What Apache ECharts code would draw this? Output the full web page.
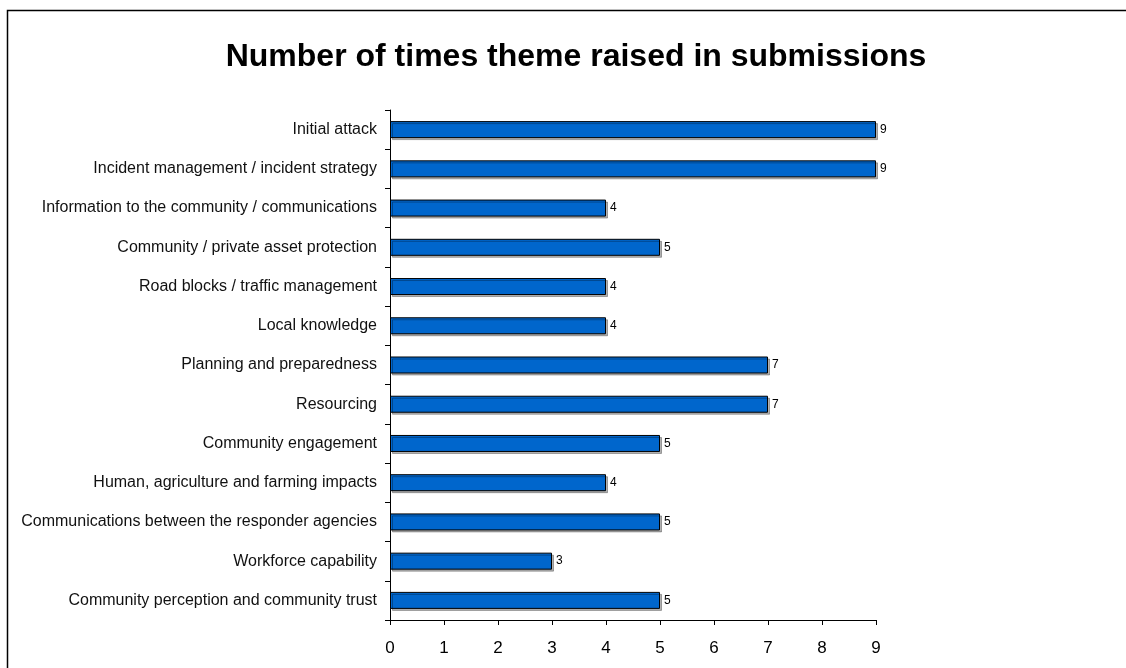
<!DOCTYPE html>
<html>
<head>
<meta charset="utf-8">
<script src="https://cdn.jsdelivr.net/npm/echarts@6/dist/echarts.min.js"></script>
<style>
html,body{margin:0;padding:0;background:#fff;}
#chart{width:1126px;height:668px;}
</style>
</head>
<body>
<div id="chart"></div>
<script>
var categories = [
  "Initial attack",
  "Incident management / incident strategy",
  "Information to the community / communications",
  "Community / private asset protection",
  "Road blocks / traffic management",
  "Local knowledge",
  "Planning and preparedness",
  "Resourcing",
  "Community engagement",
  "Human, agriculture and farming impacts",
  "Communications between the responder agencies",
  "Workforce capability",
  "Community perception and community trust"
];
var counts = [9, 9, 4, 5, 4, 4, 7, 7, 5, 4, 5, 3, 5];
var xTicks = [0, 1, 2, 3, 4, 5, 6, 7, 8, 9];

var chart = echarts.init(document.getElementById('chart'), null, {renderer: 'canvas'});
chart.setOption({
  animation: false,
  backgroundColor: '#ffffff',
  textStyle: {fontFamily: 'Liberation Sans, Arial, sans-serif'},
  graphic: [{
    type: 'rect',
    shape: {x: 7.5, y: 10.5, width: 1200, height: 700},
    style: {fill: 'none', stroke: '#000', lineWidth: 1.5},
    silent: true
  }],
  title: {
    text: 'Number of times theme raised in submissions',
    left: 571, top: 36, textAlign: 'center',
    textStyle: {fontSize: 32, fontWeight: 'bold', color: '#000', fontFamily: 'Liberation Sans, Arial, sans-serif'}
  },
  grid: {left: 390, right: 250, top: 110, bottom: 48, containLabel: false},
  xAxis: {
    type: 'value', min: xTicks[0], max: xTicks[xTicks.length - 1], interval: 1,
    axisLine: {show: true, lineStyle: {color: '#000', width: 1}},
    axisTick: {show: true, length: 5, lineStyle: {color: '#000'}},
    splitLine: {show: false},
    axisLabel: {fontSize: 17, color: '#000', margin: 20}
  },
  yAxis: {
    type: 'category', data: categories, inverse: true,
    axisLine: {show: true, lineStyle: {color: '#000', width: 1}},
    axisTick: {show: true, length: 5, lineStyle: {color: '#000'}},
    axisLabel: {fontSize: 16, color: '#111', margin: 13}
  },
  series: [{
    type: 'bar',
    data: counts,
    barWidth: 17,
    itemStyle: {
      color: '#0066CC', borderColor: '#000', borderWidth: 1,
      shadowColor: 'rgba(0,0,0,0.3)', shadowOffsetX: 2, shadowOffsetY: 2, shadowBlur: 0
    },
    label: {show: true, position: 'right', distance: 4, fontSize: 12, color: '#000'}
  }]
});
</script>
</body>
</html>
